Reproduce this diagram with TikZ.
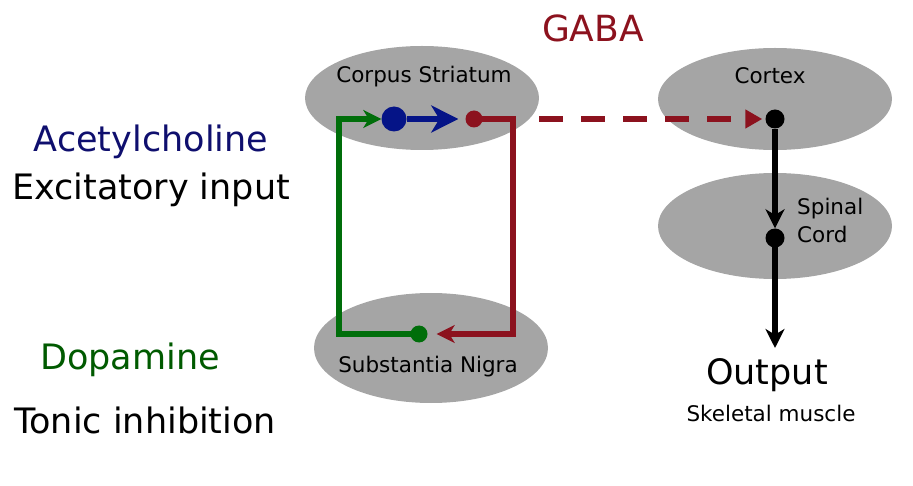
\documentclass[tikz,border=0pt]{standalone}
\usepackage{fontspec}
\setmainfont{DejaVu Sans}
\usetikzlibrary{arrows.meta,shapes.geometric}
\definecolor{acblue}{RGB}{15,15,110}
\definecolor{dotblue}{RGB}{5,20,135}
\definecolor{dgreen}{RGB}{0,110,10}
\definecolor{txtgreen}{RGB}{0,90,0}
\definecolor{dred}{RGB}{140,18,30}
\definecolor{ellgray}{RGB}{165,165,165}
\begin{document}
\begin{tikzpicture}[x=1pt,y=-1pt,
  region/.style={ellipse,fill=ellgray,draw=none,minimum width=234pt,inner sep=0pt},
  dotnode/.style={circle,inner sep=0pt,minimum size=#1},
  big/.style={font=\fontsize{35}{40}\selectfont,anchor=base,inner sep=0pt},
  small/.style={font=\fontsize{21.5}{26}\selectfont,anchor=base,inner sep=0pt},
  conn/.style={line width=6pt},
  tipS/.style={-{Stealth[length=#1,width=#1,inset=0.3*#1]}},
]
\useasboundingbox (0,0) rectangle (913,486);
% regions
\node[region,minimum height=104pt] (cs) at (422,98) {};
\node[region,minimum height=110pt] (sn) at (431,348) {};
\node[region,minimum height=102pt] (cx) at (775,99) {};
\node[region,minimum height=106pt] (sc) at (775,226) {};
% region labels
\node[small] (cslab) at (424,83) {Corpus Striatum};
\node[small] (snlab) at (428,372) {Substantia Nigra};
\node[small] (cxlab) at (770,84) {Cortex};
\node[small,anchor=base west] (sclab1) at (797,215) {Spinal};
\node[small,anchor=base west] (sclab2) at (797,243) {Cord};
% side labels
\node[big,text=acblue] (ach) at (151,152) {Acetylcholine};
\node[big] (exc) at (151,200) {Excitatory input};
\node[big,text=txtgreen] (dop) at (130,370) {Dopamine};
\node[big] (ton) at (145,433) {Tonic inhibition};
\node[big,text=dred,font=\fontsize{36}{40}\selectfont] (gaba) at (593,42) {GABA};
\node[big] (out) at (767,384) {Output};
\node[small,font=\fontsize{21.5}{26}\selectfont] (skm) at (771,421) {Skeletal muscle};
% dots
\node[dotnode=25pt,fill=dotblue] (bd) at (394,119) {};
\node[dotnode=17pt,fill=dred] (rd) at (474,119) {};
\node[dotnode=17pt,fill=dgreen] (gd) at (419,334) {};
\node[dotnode=19pt,fill=black] (cd) at (775,119) {};
\node[dotnode=19pt,fill=black] (sd) at (775,238) {};
% corner coordinates
\coordinate (gc) at (339,334);
\coordinate (rc) at (513,119);
\coordinate (ds) at (539,119);
\coordinate (outc) at (775,348);
% connectors
\draw[conn,dgreen,tipS=18pt] (gd.center) -- (gc) |- (bd);
\draw[conn,dotblue,tipS=27pt,shorten >=7pt] (bd) -- (rd);
\draw[conn,dred,tipS=18pt,shorten >=9pt] (rd.center) -- (rc) |- (gd);
\draw[conn,dred,dash pattern=on 24pt off 18pt,-{Triangle[length=17pt,width=18pt]},shorten >=3pt] (ds) -- (cd);
\draw[line width=6.5pt,black,tipS=19pt] (cd) -- (sd);
\draw[line width=6.5pt,black,tipS=19pt] (sd.center) -- (outc);
\end{tikzpicture}
\end{document}
